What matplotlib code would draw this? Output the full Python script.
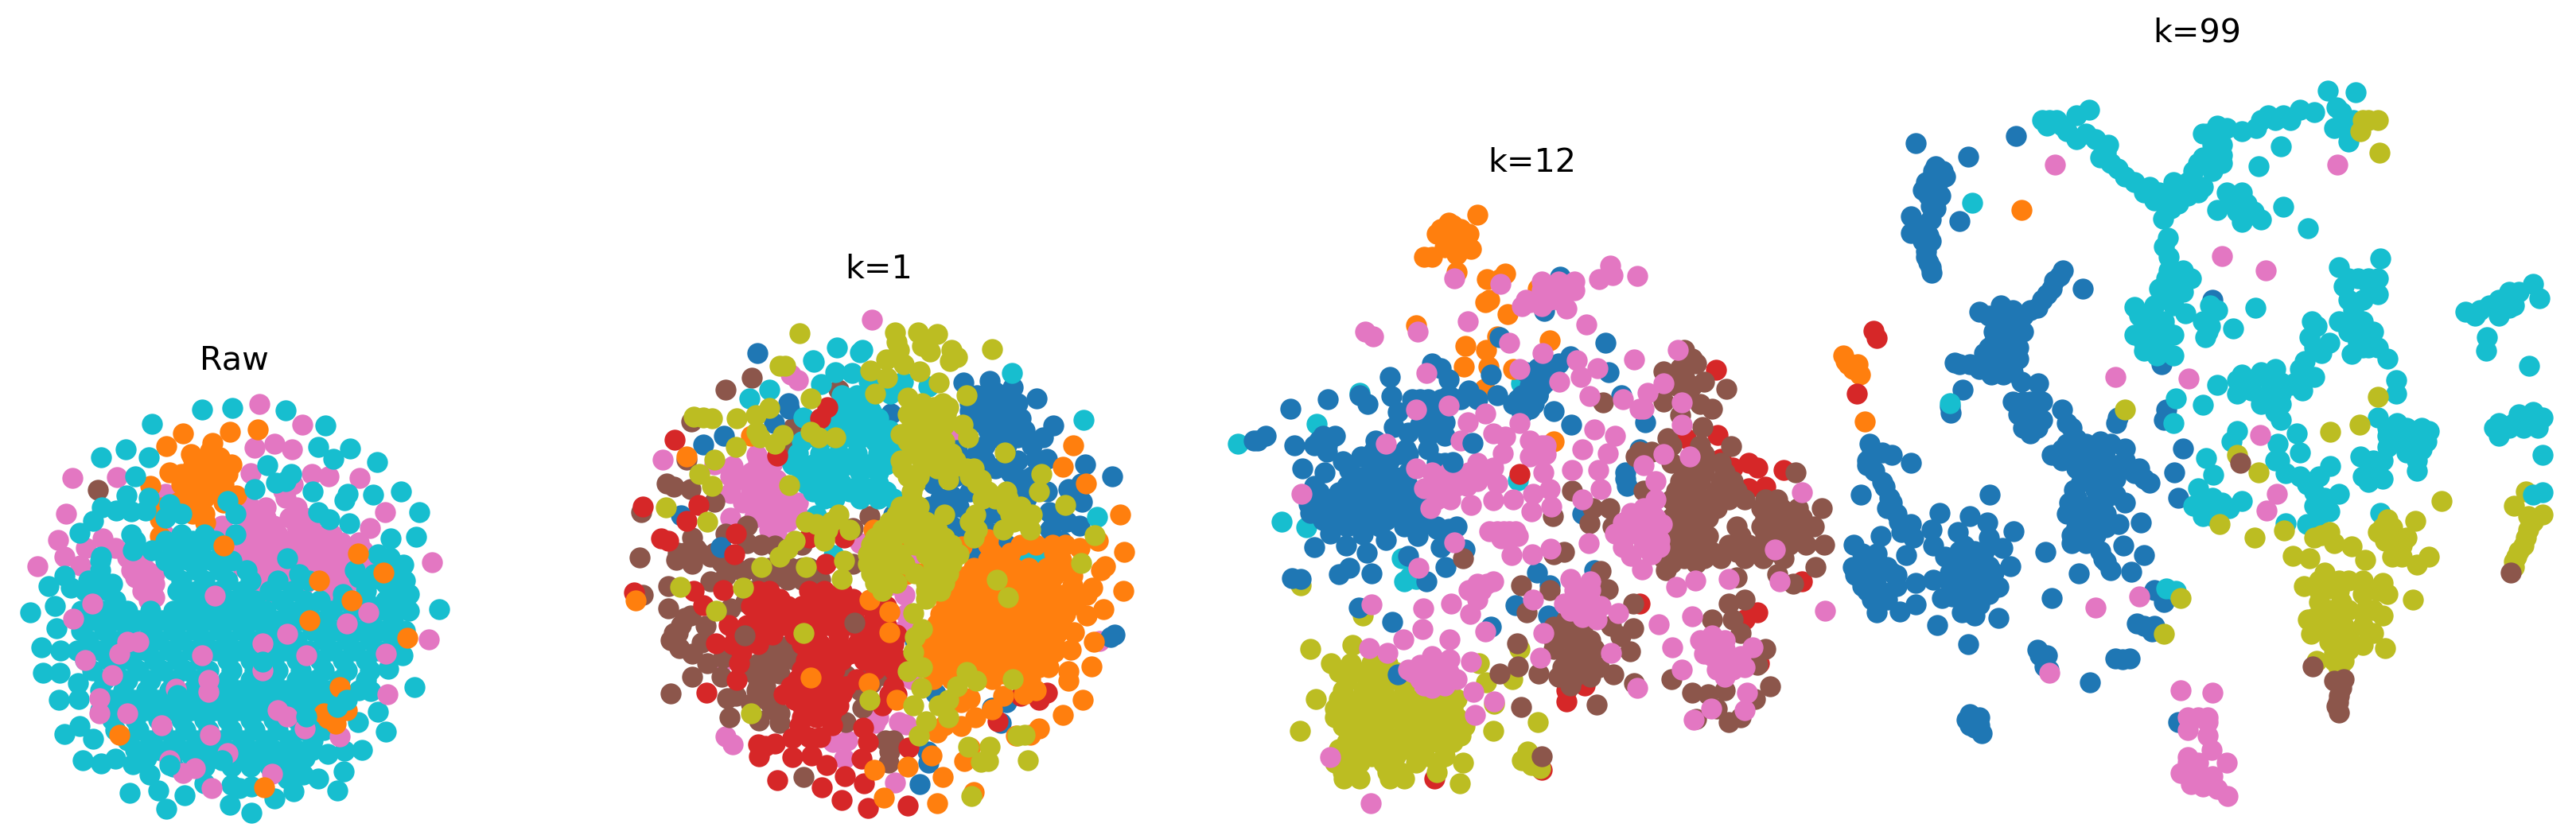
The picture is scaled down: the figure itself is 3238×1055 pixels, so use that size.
import matplotlib
matplotlib.use('Agg')
import matplotlib.pyplot as plt

BLUE = '#1f77b4'
ORANGE = '#ff7f0e'
RED = '#d62728'
BROWN = '#8c564b'
PINK = '#e377c2'
OLIVE = '#bcbd22'
CYAN = '#17becf'


def rows(table):
    return [(x, y) for y, xs in table for x in xs]


# ===================== Raw =====================
raw_pink = [(672,258),(783,320),(660,390),(711,378),(757,394),(650,467),(809,470),(852,476),(932,481),(304,478),
    (188,482),(172,588),(999,585),(267,662),(150,667),(223,693),(168,718),(209,745),(96,747),(960,633),(430,530),
    (425,652),(300,692),(350,740),(380,760),(340,700),(400,800),(370,820),(400,840),(340,760),(735,520),(760,500),
    (640,560),(770,580),(810,600),(575,625),(600,715)] + rows([
    (600,[640,690,750,790]),(650,[620,670,720,770,820,860]),(700,[610,660,710,760,810,860,900,940]),
    (750,[630,680,730,790,840,890,950]),(800,[680,790,860,900]),(850,[680]),
    (625,[650,710,770,800]),(675,[640,690,740,790,840,885,930]),(725,[630,680,730,780,830,880,920]),
    (775,[650,700,760,820,870,920]),(825,[680,850,890]),(570,[650,690,770]),(540,[740]),(770,[360,400]),
    (800,[370]),(720,[330,370]),(780,[350]),(850,[385])])
raw_orange = [(474,347),(597,342),(668,336),(431,386),(389,505),(613,535),(550,375),(495,410),(520,440),(560,440),
    (600,440),(470,470),(520,480),(570,480),(440,465),(500,520),(550,520),(460,555),(580,555),(520,570),(533,615),
    (415,605),(420,570),(415,655),(590,470)] + rows([
    (450,[500,540,580]),(500,[480,530,580,470]),(540,[480,530]),(420,[500,570]),(400,[545]),(590,[530,500])])
raw_brown = [(253,517)]
raw_cyan = [(525,275),(603,271),(741,277),(843,324),(395,318),(907,393),(825,387),(865,423),(977,433),(327,395),
    (262,420),(386,418),(693,443),(350,477),(1040,521),(967,531),(811,523),(902,528),(893,548),(329,533),(385,540),
    (1087,583),(264,570),(302,580),(341,581),(378,579),(241,610),(905,617),(1078,658),(207,646),(1013,664),(263,718),
    (168,775),(1046,742),(125,807),(183,812),(142,866),(79,885),(1138,877),(147,934),(107,992),(157,1000),(111,1067),
    (155,1068),(202,1099),(153,1149),(205,1146),(1044,1016),(1075,1111),(1006,1055),(961,1123),(981,1186),(1001,1244),
    (928,1217),(939,1301),(893,1302),(891,1365),(875,1423),(851,1313),(825,1387),(787,1374),(762,1425),(711,1447),
    (652,1488),(597,1464),(431,1477),(479,1436),(411,1423),(337,1428),(387,1373),(345,1343),(300,1326),(261,1341),
    (215,1331),(241,1266),(207,1228),(167,1251),(530,1400),(745,1385),(620,1415),(652,1410),(600,1405),
    (920,760),(980,710),(1010,720),(1050,790),(1060,830),(1000,800),(950,820),(910,850),
    (930,780),(970,770),(1020,760),(1030,800),(960,790),(890,830),(940,850),(1000,850),(1040,860)] + rows([
    (650,[340,470,530,610]),(700,[345,395,465,520]),(760,[260,450,510,570,640]),
    (820,[220,280,460,510,570,630,700,760]),
    (880,[210,270,330,390,450,510,570,630,690,750,800,860,920,980,1030,1060]),
    (940,[210,270,330,390,450,510,570,630,690,750,810,870,930,990,1050]),
    (1000,[200,260,320,380,440,500,560,620,680,740,800,860,920,980]),
    (1060,[240,300,360,420,480,540,600,660,720,780,840,900,960]),
    (1120,[260,320,380,440,500,560,620,680,740,800,850,930]),
    (1180,[260,320,380,440,500,560,620,680,740,800,880]),
    (1240,[300,360,420,480,540,600,660,720,780,840]),
    (1300,[350,410,470,530,590,650,710,770,810]),
    (1350,[450,530,600,650,700,750]),
    (850,[240,300,480,540,600,660,730,790,830,890,950,1000,1040]),
    (910,[240,300,360,420,480,540,600,660,720,780,840,900,960,1020]),
    (970,[230,290,350,410,470,530,590,650,710,770,840,900,960,1020]),
    (1030,[220,280,340,400,460,520,590,650,710,770,830,890,950]),
    (1090,[270,330,390,450,510,590,650,710,770,820,880,950]),
    (1150,[290,350,410,470,530,590,650,710,770,830]),
    (1210,[290,350,410,470,530,590,650,710,770,820]),
    (1270,[330,390,450,510,570,630,690,750,810]),
    (1325,[380,440,500,560,620,680,740,790]),
    (790,[230,470,530,590,650,720,800]),(730,[260,430,490,550,600]),(670,[350,430,500,560]),
    (720,[450,520,580]),(800,[250,290])])
raw_pink_top = [(557,835),(240,860),(190,905),(330,975),(360,975),(310,1010),(525,1015),(680,980),(745,950),(795,1015),
    (900,920),(955,885),(1000,1010),(680,1060),(540,1090),(540,1125),(455,1115),(258,1145),(258,1190),(330,1190),
    (418,1225),(720,1180),(790,1235),(545,1255),(590,1310),(475,1370),(505,1355),(548,1415),(706,1372),(1113,968),
    (1004,1133),(1120,735),(440,1330),(220,1030),(290,1075),(745,1200),(880,1260)]
raw_orange_top = [(684,1412),(310,1255),(1056,962),(995,765),(828,790),(928,708),(803,910),(912,850),(580,685),
    (850,1205),(880,1110),(900,1180),(870,1220),(840,1190)]
raw_cyan_top = [(744,723),(775,770),(660,515),(715,495),(755,470),(740,490),(825,585),(855,605),(610,590),(590,550),
    (470,590),(440,560),(430,600),(875,1170),(900,1150),(795,1200),(680,1035),(460,1135),(575,1330),(440,1345)]

# ===================== k=1 =====================
k1_pink = [(732,211),(530,370),(510,355),(160,578),(300,590),(415,565),(350,595),(345,620),(345,665),(343,728),
    (400,610),(450,610),(490,650),(400,660),(450,660),(380,690),(430,710),(480,700),(530,690),(450,760),(500,740),
    (530,720),(780,870),(780,905),(820,930),(825,980),(820,1020),(835,840),(700,795),(840,1150),(750,1250),(740,1265),
    (805,1262),(825,1268),(625,1315),(665,1310),(655,1358),(795,1420),(330,1300),(350,1320),(1355,1050),(950,505),(322,1105)] + rows([
    (630,[370,420,470]),(685,[400,450,500]),(730,[410,460,510]),(585,[420,460]),(770,[470])])
k1_brown = [(402,363),(332,395),(238,478),(640,395),(517,495),(508,553),(225,578),(170,640),(190,648),(235,655),(300,688),
    (100,715),(95,832),(240,780),(250,810),(195,840),(240,850),(290,830),(320,845),(330,770),(390,750),(390,795),(430,800),
    (467,802),(175,908),(290,895),(175,965),(105,930),(235,985),(210,1010),(180,1048),(277,1012),(265,1055),(205,1070),
    (240,1085),(280,1110),(240,1145),(320,1145),(180,1187),(325,1095),(345,965),(385,950),(380,870),(330,880),(430,880),
    (480,880),(540,800),(540,860),(590,890),(680,755),(725,725),(680,850),(450,1080),(500,1080),(420,1110),(470,1120),
    (410,1135),(520,1100),(415,1180),(400,1215),(360,1195),(335,1200),(450,1210),(480,1240),(480,1265),(423,1258),(341,1251),
    (660,1140),(720,1140),(580,1180),(570,1210),(700,1180),(705,1225),(660,1262),(768,1310),(790,1310),(780,1340),(777,1368),
    (545,1405),(760,1140)] + rows([
    (1100,[440,490]),(1135,[440,480]),(1060,[470,510]),(1170,[420,440]),(1230,[460]),(1160,[640,680,730]),
    (820,[200,220,260,310,300]),(860,[340,360,400,450,510,560]),(890,[500,540,440]),(920,[400]),(990,[220]),(1030,[190,200])])
k1_blue = [(419,300),(983,375),(1054,372),(1118,388),(502,430),(505,445),(463,481),(327,515),(269,537),(785,457),(1183,418),
    (1229,488),(1390,621),(1315,590),(1305,640),(1270,655),(1306,687),(1218,715),(1265,740),(1300,750),(1220,760),(208,722),
    (318,805),(535,975),(1395,1035),(1385,1040),(905,1187),(885,1340),(887,1368),(863,1425),(1100,1210),(1060,1225),(1085,1265),
    (850,1050),(1000,430),(1040,430),(1070,400),(1090,440),(1130,430),(1030,480),(1090,480),(1140,470),(1070,520),(1130,520),
    (1200,520),(965,552),(1020,560),(1070,600),(1130,580),(1180,575),(1210,575),(1110,610),(1150,630),(1155,680),(1210,660),
    (880,590),(900,640),(950,670),(1000,660),(890,700),(970,700),(1060,710),(950,750),(990,760),(1070,770),(890,770),(940,840),
    (1015,820),(1100,800),(960,790),(790,720),(1250,790)] + rows([
    (410,[1020,1070,1110]),(450,[1000,1060,1110]),(500,[1050,1110,1150]),(540,[1040,1100,1170]),(580,[1000,1040,1100]),
    (620,[1120,1170]),(650,[1130,1170]),(620,[880,920,960]),(680,[920,960,1040]),(730,[920,1000,1040,1090]),(790,[1030,1080]),
    (760,[1220]),(740,[1230])])
k1_cyan = [(1116,352),(1310,474),(1348,727),(705,290),(700,298),(635,285),(570,318),(573,322),(632,349),(677,351),(722,371),
    (817,373),(782,405),(887,387),(593,381),(450,394),(397,417),(545,468),(610,480),(650,410),(690,410),(640,450),(690,450),
    (730,450),(600,480),(680,490),(740,490),(780,500),(580,723),(627,827),(1060,920),(1050,895),(1120,830),(1160,830),(1205,840)] + rows([
    (530,[540,590,640,690,740,790]),(590,[515,570,620,670,720,770,810]),(640,[550,600,650,700,750]),(680,[600,630,700,750,790]),
    (430,[660,710]),(470,[650,700,750]),(510,[570,620,670,720,770]),(560,[530,590,640,690,750,800]),(610,[540,590,640,700,750]),
    (660,[570,620,670,720,770])])
k1_red = [(192,525),(473,568),(258,695),(225,737),(105,700),(155,783),(175,790),(80,925),(243,920),(270,957),(325,918),(355,825),
    (305,1058),(350,1060),(375,1080),(368,1108),(362,1153),(278,1186),(610,440),(590,470),(420,1320),(440,1325),(465,1318),(423,1352),
    (515,1305),(560,1303),(590,1303),(515,1355),(567,1350),(608,1375),(703,1358),(720,1315),(708,1278),(622,1270),(533,1270),(580,1248),
    (658,1403),(709,1423),(594,1434),(473,1415),(650,1466),(720,1488),(830,1481),(832,1330),(1075,1260),(1190,1205),(1210,1185),(1140,1195),
    (605,850),(655,780),(560,780),(360,770)] + rows([
    (920,[420,450,560,600,650]),(960,[400,450,500,540,600,650,700,770]),(1010,[340,390,440,490,560,610,660,720,770]),
    (1060,[420,540,590,640,690,740,790]),(1100,[550,600,650,710,760,810]),(1150,[530,590,690]),(1190,[490,530,610,650,780,800]),
    (1220,[540,600,640,760]),(1250,[540,580]),
    (940,[430,480,580,630,680,740]),(985,[420,470,520,570,630,680,740]),(1035,[360,410,460,520,580,640,700,750,800]),
    (1085,[570,620,670,720,780]),(1125,[540,570,630,740,790]),(1170,[510,560,630,660,790]),(1205,[520,570,630]),(1240,[560,620])])
k1_orange = [(1282,540),(1254,596),(1318,640),(1411,720),(1350,790),(1423,819),(1300,808),(1370,855),(1360,865),(1420,919),(1335,912),
    (1365,968),(1320,985),(1284,1028),(1340,1052),(1277,1073),(1333,1118),(1270,1130),(1270,1155),(1309,1205),(1255,1245),(1190,1280),
    (1165,1295),(1125,1297),(1090,1195),(1060,1230),(1015,1250),(975,1273),(910,1290),(930,1270),(895,1350),(1000,1330),(985,1365),
    (830,1378),(738,1387),(926,1407),(765,1460),(911,1475),(1010,1445),(780,975),(780,1027),(725,942),(737,760),(563,1146),(722,1160),
    (800,1205),(828,780),(865,875),(825,877),(85,945),(400,515),(225,570),(1148,1190),(1180,1180),(1000,1200),(975,1210),(978,803)] + rows([
    (800,[1050,1140,1180,1225,1260]),(840,[1050,1090,1250]),(880,[990,1040,1090,1135,1180,1230,1280]),
    (930,[950,1000,1050,1100,1150,1200,1250,1320]),(980,[920,970,1020,1070,1120,1170,1220,1260]),
    (1030,[900,950,1000,1050,1100,1150,1200,1240]),(1080,[880,930,980,1030,1080,1130,1180,1230]),
    (1120,[920,970,1020,1070,1120,1190,1215]),(1150,[900,950,1060,1165]),
    (820,[1060,1110,1230]),(860,[1010,1070,1120,1160,1210,1260]),(905,[970,1020,1070,1120,1170,1220,1280]),
    (955,[935,985,1035,1085,1135,1185,1235,1290]),(1005,[910,960,1010,1060,1110,1160,1210,1250]),
    (1055,[880,930,980,1030,1080,1130,1180,1230]),(1100,[900,950,1000,1050,1100,1150,1210]),(1135,[940,990,1040,1090,1140]),(785,[1050])])
k1_olive = [(534,248),(795,245),(800,270),(805,290),(858,245),(885,265),(910,250),(870,280),(890,295),(950,290),(965,310),(945,320),
    (1061,289),(480,332),(495,332),(770,315),(818,328),(727,345),(774,363),(863,347),(565,417),(740,405),(915,375),(830,415),(870,430),
    (925,430),(935,460),(450,442),(243,465),(270,468),(295,470),(361,469),(414,462),(416,505),(425,520),(360,544),(300,577),(260,614),
    (294,645),(168,703),(280,740),(487,512),(465,535),(565,505),(585,520),(632,520),(505,643),(990,410),(980,485),(995,520),(520,790),
    (500,810),(480,830),(550,740),(580,745),(600,790),(655,842),(552,857),(430,857),(207,910),(380,912),(305,972),(650,888),(845,978),
    (870,1020),(850,1040),(845,1080),(830,1130),(870,1120),(867,1173),(845,1220),(880,1260),(915,1220),(940,1250),(940,1205),(860,1297),
    (990,1132),(1018,1155),(1118,1150),(965,1170),(725,1205),(1073,890),(1105,937),(1195,615),(1190,660),(1260,695),(1305,848),(1342,775),
    (1095,558),(1150,1295),(1130,1298),(995,1328),(1055,1328),(1030,1367),(1050,1365),(1158,1362),(1005,1455),(545,1030),(400,1240)] + rows([
    (460,[830,870,920]),(510,[810,860,910]),(560,[840,900]),(600,[815,870,930,990]),(640,[850,1020]),(680,[840,1035,1070,1105]),
    (720,[640,800,850,930,1015,1110,1170]),(760,[610,670,760,810,860,910,1090,1165,1020]),(800,[730,780,850,900,950]),
    (850,[720,770,820,900,950]),(900,[740,800,880,930]),(940,[880]),
    (440,[850,900,940]),(485,[840,890,930]),(530,[830,880,930]),(580,[810,870,920,960]),(620,[830,860,1000]),(660,[840,1050,1100]),
    (700,[810,860,1100,1140]),(740,[620,780,830,880,1000,1120,1150]),(780,[600,740,790,840,880,930,1010]),(825,[720,760,810,880,930,970]),
    (875,[730,780,850,900,940]),(920,[760,880,920]),(600,[910,950,1010]),(630,[940,1030]),(560,[920,950])])
k1_brown_top = [(684,1004),(383,1036)]

# ===================== k=12 =====================
k12_cyan = [(350,585),(245,653),(50,698),(158,869),(220,882),(460,1000),(475,990),(490,995),(740,778),(748,565),(455,950)]
k12_red = [(1228,535),(1155,685),(1232,678),(1240,730),(1270,750),(1310,740),(1330,750),(1350,792),(1395,755),(1310,795),(1440,1000),
    (1335,1180),(1330,1068),(1300,1085),(1040,1050),(860,1265),(860,1240),(905,1230),(536,1435),(800,1415)]
k12_orange = [(640,193),(580,215),(550,225),(600,225),(560,245),(600,245),(625,268),(590,280),(560,265),(510,285),(530,285),(590,318),
    (665,335),(710,322),(695,335),(660,385),(670,380),(715,412),(790,355),(820,470),(612,481),(663,491),(608,528),(668,528),(490,437),
    (730,533),(658,577),(690,460),(830,692)] + rows([(210,[570]),(235,[540,580,620]),(255,[570,590]),(270,[600])])
k12_olive = [(230,1150),(333,1140),(243,1260),(203,1330),(205,1010),(358,1075),(662,1222),(727,1215),(682,1270),(790,1311),(680,1330),
    (745,1150),(645,1180),(598,1445),(765,1375),(750,1395),(795,1412),(775,1405)] + rows([
    (1180,[280,330,380,420]),(1220,[320,370,420,460]),(1260,[300,350,400,450,500,550,590]),(1300,[290,340,390,440,490,540,590]),
    (1340,[340,390,450,500,550,600]),(1370,[300,350,400,460,510,560]),(1400,[290,350,410,490,540,605]),(1435,[312,350,425,460]),
    (1200,[300,350,400,440]),(1240,[310,360,410,460]),(1280,[290,330,380,430,480,530,580]),(1320,[310,360,410,470,520,570,610]),
    (1355,[320,370,430,480,530,580]),(1385,[320,380,440,510,560]),(1420,[310,420,450,540])])
k12_blue = [(845,330),(805,405),(695,462),(957,474),(965,540),(426,550),(180,620),(272,600),(430,593),(444,628),(350,590),(370,610),
    (435,660),(470,672),(530,520),(570,555),(550,530),(675,545),(690,590),(780,545),(810,560),(840,520),(870,505),(790,590),(740,600),
    (770,620),(830,625),(873,655),(1055,650),(995,590),(1040,710),(1005,760),(1010,790),(90,690),(120,680),(190,700),(250,690),(290,680),
    (270,715),(310,735),(355,725),(390,690),(385,715),(423,735),(465,710),(470,720),(520,710),(380,750),(325,755),(265,760),(210,752),
    (225,830),(230,850),(279,895),(359,897),(415,910),(493,900),(550,925),(240,925),(317,922),(369,938),(381,982),(300,985),(325,970),
    (185,993),(205,995),(470,945),(515,1000),(562,968),(610,930),(540,620),(500,600),(520,640),(560,650),(520,680),(560,680),(480,600),
    (590,600),(620,580),(570,590),(348,1058),(432,1090),(787,981),(735,1053),(820,1010),(815,1075),(675,1100),(900,852),(445,1205),(930,975)] + rows([
    (790,[240,320,370,420,470]),(820,[270,320,370,420,470,520]),(850,[290,340,390,440,490]),(880,[280,320,400,460,500,540,590]),
    (805,[250,300,345,395,445,495]),(835,[245,295,345,395,445,495]),(865,[260,310,365,415,465,510]),(770,[350,400,440,460]),(760,[420,470]),
    (620,[510,550]),(655,[500,540]),(700,[240,270]),(680,[260]),(690,[100]),(600,[520,550,600,640]),(590,[750,790]),(610,[730,780]),
    (570,[770,800]),(630,[750]),(530,[790,830]),(540,[760,820]),(885,[540,570]),(720,[450]),(740,[540,560])])
k12_brown = [(1150,490),(1180,520),(1100,537),(1150,550),(1200,560),(1255,577),(1160,585),(1100,605),(1140,635),(1190,610),(1220,620),
    (1195,660),(1110,685),(1267,703),(1040,715),(1070,715),(1030,725),(950,607),(875,800),(925,840),(967,840),(918,872),(828,856),(1050,800),
    (975,880),(1105,975),(1280,992),(1473,968),(1420,1005),(1380,985),(605,950),(855,935),(830,940),(945,977),(748,1010),(820,1020),(963,1018),
    (1025,1050),(763,1068),(970,1098),(1025,1103),(993,1122),(1017,1155),(738,1137),(741,1188),(695,1203),(792,1204),(977,1205),(748,1278),
    (935,1272),(1028,1225),(800,1385),(1220,1085),(1260,1050),(1300,1040),(1270,1085),(1290,1115),(1350,1150),(1330,1185),(1120,1215),
    (1170,1245),(1210,1250),(1250,1240),(1230,1280),(1260,1310),(1325,1260),(1363,1232),(1180,1303),(1290,1300)] + rows([
    (720,[1200]),(760,[1150,1200,1250,1425]),(800,[1130,1180,1230,1280]),(840,[1130,1180,1230,1340,1390,1430,1490]),
    (880,[1130,1180,1280,1340,1390,1430,1470]),(920,[1130,1180,1260,1310,1360,1410,1450,1495]),(950,[1100,1150,1200,1240,1300,1345,1395]),
    (1110,[850,900]),(1150,[830,880,930]),(1190,[850,900,940]),(1210,[840]),(1230,[870]),
    (740,[1120,1160,1200,1240]),(780,[1140,1190,1240,1270]),(820,[1120,1160,1210,1260,1300,1350,1380]),(860,[1120,1160,1210,1350,1400,1440]),
    (900,[1120,1160,1210,1290,1350,1400,1440]),(935,[1130,1170,1220,1280,1330,1380]),(1130,[830,870,920]),(1170,[860,910]),(1100,[830,875]),
    (1085,[860]),(1210,[880,920]),(960,[1120,1180]),(570,[1170,1130]),(530,[1140]),(510,[1170]),(700,[1120,1190])])
k12_pink = [(585,332),(697,345),(968,305),(940,335),(975,325),(1035,327),(850,345),(870,360),(770,385),(820,380),(860,400),(910,435),(618,428),
    (493,450),(365,450),(385,460),(720,475),(802,497),(885,513),(843,560),(895,550),(937,531),(1028,512),(515,542),(745,532),(918,593),(1000,600),
    (1040,620),(490,622),(570,613),(660,630),(618,650),(745,652),(710,682),(680,675),(930,665),(980,680),(703,718),(900,710),(962,718),(770,690),
    (800,700),(770,725),(490,752),(804,761),(875,755),(938,755),(690,785),(820,797),(778,808),(945,797),(680,822),(730,820),(775,847),(823,835),
    (625,833),(207,808),(415,697),(600,690),(640,740),(680,750),(550,770),(600,770),(640,780),(510,795),(560,810),(525,840),(590,790),(690,890),
    (720,890),(740,900),(725,943),(776,940),(822,928),(915,917),(585,915),(496,970),(1047,974),(1131,1012),(1177,999),(1385,1000),(1260,995),
    (1373,930),(1498,1065),(1088,1095),(1170,1078),(1122,1146),(640,1015),(680,1000),(640,1040),(577,1050),(507,1060),(623,1073),(506,1105),
    (380,1052),(458,1129),(572,1129),(660,1110),(796,1168),(803,1114),(970,1158),(988,1070),(778,1040),(870,995),(920,1000),(855,1050),(900,1040),
    (945,1055),(900,1080),(935,1085),(470,1195),(530,1165),(572,1172),(625,1178),(500,1215),(550,1220),(590,1215),(530,1235),(631,1244),(636,1295),
    (682,1265),(278,1388),(378,1490),(375,1148),(419,1158),(1220,1120),(1200,1160),(1250,1150),(1190,1130),(1240,1180),(1300,1190),(1320,1145),
    (1250,1210),(1145,1195),(1217,1280),(1300,1285),(1305,1245),(1175,1305),(1035,1235),(1000,870),(1040,870),(1080,860),(1000,910),(1050,900),
    (1090,910),(1020,945),(1070,940),(1050,840),(1060,585),(1100,565),(1050,620),(1145,607),(1145,655),(1135,490),(1100,720),(1050,745),(1165,725),
    (1080,780),(1080,820),(1440,805),(900,820)] + rows([
    (875,[1010,1060,1095]),(895,[980,1030,1075]),(925,[1000,1050,1090]),(850,[1020,1070]),(1020,[880,920]),(1065,[870,915]),(760,[530,570,620,660]),
    (790,[530,575,615]),(820,[540,575]),(1200,[480,520,570]),(1185,[500,550]),(1230,[510,560]),(1130,[1210,1250]),(1165,[1220,1260,1290]),
    (1195,[1230,1270]),(340,[840,880,800]),(360,[800,850,880]),(380,[760,810,840]),(395,[750,800]),(890,[670,705,735]),(905,[700,720]),
    (700,[780,810]),(720,[790,810]),(1020,[620,650]),(1005,[640,665])])
k12_blue_top = [(630,695),(580,737),(1005,775)]
k12_red_top = [(744,763)]

# ===================== k=99 =====================
k99_blue = [(210,268),(318,293),(415,254),(250,310),(270,330),(240,350),(225,355),(250,370),(250,390),(200,405),(240,410),(300,413),(200,435),
    (235,440),(230,470),(235,490),(243,510),(512,505),(495,525),(480,550),(554,539),(460,575),(430,590),(340,582),(385,570),(380,600),(410,600),
    (370,640),(410,640),(350,660),(390,670),(420,670),(290,677),(320,680),(365,700),(410,695),(428,713),(462,716),(306,728),(280,760),(281,772),
    (430,750),(420,775),(460,760),(440,790),(470,785),(445,810),(510,765),(520,790),(625,780),(622,790),(720,785),(725,765),(715,680),(820,560),
    (540,820),(590,825),(640,838),(490,850),(530,850),(580,860),(620,870),(560,880),(600,890),(660,885),(690,902),(535,915),(580,915),(620,925),
    (525,940),(570,945),(640,940),(540,970),(580,970),(530,1000),(580,1000),(627,980),(672,977),(636,1020),(477,1031),(680,1038),(590,1030),(600,1050),
    (610,1065),(653,1068),(545,1072),(490,1117),(742,883),(750,930),(759,838),(200,865),(115,830),(160,850),(110,860),(125,880),(145,910),(97,925),
    (155,930),(170,960),(200,980),(180,995),(205,1005),(137,1002),(362,925),(259,958),(321,965),(357,976),(243,990),(297,995),(411,993),(245,1020),
    (360,1005),(388,1024),(405,1058),(82,1018),(190,1037),(100,1050),(130,1050),(85,1075),(120,1080),(170,1075),(110,1105),(150,1110),(130,1145),
    (177,1143),(210,1090),(245,1083),(263,1117),(210,1130),(254,1168),(380,1155),(380,1097),(310,1020),(290,1050),(330,1050),(360,1058),(280,1090),
    (320,1090),(350,1100),(310,1130),(340,1130),(305,1145),(330,1150),(318,1204),(700,1103),(720,1125),(665,1165),(695,1180),(460,1215),(475,1235),
    (483,1252),(635,1232),(568,1275),(320,1335),(340,1340),(330,1360),(345,1370),(750,1350)] + rows([
    (320,[245,265]),(340,[230,255]),(365,[235,260]),(385,[240]),(420,[225,215]),(450,[225,240]),(480,[230]),(500,[240]),(515,[505]),(540,[490]),
    (560,[470]),(580,[445,410]),(590,[360,400]),(620,[370,400,430]),(650,[360,390,420]),(680,[300,345,380,410]),(690,[340,390]),(700,[390]),
    (770,[440,455]),(800,[430,460]),(750,[410,445,470]),(780,[440]),(800,[530]),(830,[520,560,610]),(840,[510,560,600]),(860,[510,550,600,640]),
    (875,[540,580,640,670]),(895,[560,620,680]),(900,[550,590]),(930,[540,600]),(960,[520,560,600]),(985,[540,570,600]),(1015,[530,560]),(1045,[595]),
    (900,[140]),(940,[160]),(950,[150]),(975,[175]),(845,[120,140]),(870,[110]),(1060,[80,110,150]),(1070,[100,130,160]),(1095,[100,130,170]),
    (1120,[120,150]),(1130,[130]),(1035,[100,130]),(1030,[300,330,350]),(1070,[280,310,340,370]),(1110,[300,330,360]),(1040,[270,320]),(1115,[285]),
    (1145,[320]),(1170,[680,700]),(1225,[465,480]),(1245,[475]),(1345,[315,335]),(1355,[320,340]),(1230,[620,650])])
k99_cyan = [(1057,170),(1115,173),(485,225),(540,215),(567,205),(520,245),(560,250),(605,270),(590,295),(625,315),(660,340),(690,350),(740,340),
    (700,375),(735,390),(718,408),(770,365),(800,350),(780,320),(820,320),(800,295),(840,290),(810,250),(830,235),(880,245),(910,240),(935,215),
    (965,215),(1000,205),(1030,210),(960,273),(915,311),(1085,210),(1070,240),(1100,250),(1110,225),(850,360),(880,360),(870,395),(905,395),(920,410),
    (880,415),(830,393),(965,387),(1017,426),(325,379),(728,445),(730,480),(730,505),(760,505),(775,520),(760,545),(710,540),(660,573),(700,570),
    (740,570),(765,585),(680,610),(720,610),(680,640),(720,640),(705,665),(740,665),(815,570),(800,600),(805,630),(830,580),(862,614),(908,575),
    (1080,500),(1090,535),(1140,530),(1166,483),(1160,550),(1110,580),(1080,600),(1130,600),(1120,640),(1107,662),(1160,650),(1180,670),(1025,600),
    (1020,630),(1060,640),(1045,660),(1010,675),(1030,705),(830,720),(870,710),(920,695),(950,690),(900,730),(940,730),(980,720),(1005,730),(920,755),
    (960,755),(960,785),(745,745),(801,757),(740,790),(1198,710),(1198,735),(1160,780),(1200,790),(1240,810),(1265,805),(1205,820),(1250,840),(1180,835),
    (1125,853),(1240,880),(1150,880),(1130,890),(1170,895),(993,810),(1000,845),(955,830),(958,860),(970,885),(870,805),(860,825),(807,856),(822,887),
    (1063,871),(1000,890),(1040,890),(1030,920),(1080,923),(1030,945),(1060,955),(790,912),(780,945),(820,930),(820,965),(855,950),(880,937),(971,978),
    (1014,980),(1165,958),(280,753),(725,1100),(745,1105),(1340,583),(1370,580),(1410,560),(1430,575),(1450,545),(1480,530),(1493,558),(1385,630),
    (1383,655),(1472,683),(1400,800),(1450,775),(1480,790),(1500,780),(1410,815),(1500,850)] + rows([
    (225,[470,500]),(235,[480,510]),(260,[540,580]),(285,[600]),(305,[610]),(330,[640]),(360,[680,710,740,790]),(380,[720,750,860,890]),(340,[770]),
    (305,[790,810,840]),(270,[820,840]),(250,[800]),(240,[850]),(225,[920,950,980,1090]),(265,[1100]),(200,[1075]),(400,[890]),(460,[720]),
    (520,[745,725,1100,1120,1160,1140]),(550,[730]),(600,[680,700,720,1100]),(590,[670,1360,1410]),(625,[660,690,740]),(655,[680,700]),(620,[810,1100,1130,1150]),
    (610,[815,1035]),(560,[1100,1130]),(650,[1130,1140,1030]),(700,[880,930]),(715,[900,960,990]),(735,[870,960]),(710,[940]),(745,[940]),(770,[950]),
    (690,[1000]),(800,[1180,1220,1250,1430,1460,1490]),(815,[1220,1180]),(825,[1260]),(860,[1240,1150,1170,950]),(845,[1220,1240]),(890,[1160]),(900,[1140,1020]),
    (940,[800,840]),(965,[800,1040]),(930,[1050]),(905,[1015]),(570,[1390,1440]),(545,[1430]),(790,[1410,1440]),(770,[1480])])
k99_olive = [(1130,225),(1160,225),(1125,245),(1163,286),(1160,742),(1063,807),(1123,794),(915,883),(1292,937),(907,1005),(968,992),(835,980),(640,765),
    (870,850),(1237,973),(1465,918),(1440,945),(1470,965),(1500,962),(1470,990),(1460,1020),(1445,1040),(1440,1060),(1180,970),(1160,995),(1190,1015),
    (1220,1005),(1210,1040),(1240,1055),(1265,1040),(1060,995),(1030,1005),(1070,1015),(1107,1021),(985,1039),(1019,1044),(1135,1047),(1232,1120),(1008,1096),
    (1175,1212),(1050,1070),(1060,1100),(1100,1085),(1170,1090),(1040,1125),(1085,1125),(1130,1110),(1180,1110),(1030,1155),(1075,1160),(1130,1145),(1170,1150),
    (1017,1158),(1023,1185),(1060,1190),(1100,1185),(1150,1183),(1130,1205),(1070,1220),(1100,1215),(1035,1235),(1080,1250),(755,1118),(720,1185)] + rows([
    (1000,[1045]),(1010,[1175,1205]),(985,[1170,1190]),(1040,[1190]),(1020,[1210]),(1085,[1040,1080,1130]),(1105,[1040,1080,1160]),(1140,[1060,1100,1150]),
    (1170,[1050,1090,1130]),(1200,[1060,1090]),(1235,[1070,1090]),(975,[1480]),(1005,[1465]),(1030,[1450]),(1050,[1440]),(225,[1140])])
k99_cyan_top = [(1500,920),(1480,925)]
k99_brown = [(878,865),(1027,1245),(1070,1272),(1090,1270),(1080,1300),(1075,1320),(1080,1332),(1433,1070),(1085,1285),(1078,1312)]
k99_pink = [(496,307),(1077,307),(839,478),(929,505),(620,705),(771,708),(918,813),(952,923),(932,954),(670,1115),(580,1136),(755,1290),(820,1295),(790,1340),
    (770,1365),(810,1350),(810,1375),(819,1402),(849,1426),(770,1415),(755,1445),(785,1440),(775,1465),(820,1450),(830,1475),(851,1488),(485,1258)] + rows([
    (1340,[810,770]),(1425,[770,790]),(1455,[800,810]),(1470,[800])])
k99_orange = [(427,393),(65,675),(80,690),(95,700),(104,787),(70,680),(90,680),(60,665)]
k99_red = [(122,618),(130,632),(88,736)]

W, H = 3238, 1055
fig = plt.figure(figsize=(W / 100, H / 100), dpi=100)

# left, top, width, height of each panel in pixels, then title and its position
panels = [
    ((0, 400, 760, 655), 'Raw', (608, 127), [(raw_pink, PINK), (raw_orange, ORANGE), (raw_brown, BROWN), (raw_cyan, CYAN),
        (raw_pink_top, PINK), (raw_orange_top, ORANGE), (raw_cyan_top, CYAN)]),
    ((760, 300, 720, 755), 'k=1', (750, 82), [(k1_pink, PINK), (k1_brown, BROWN), (k1_blue, BLUE), (k1_cyan, CYAN),
        (k1_red, RED), (k1_orange, ORANGE), (k1_olive, OLIVE), (k1_brown_top, BROWN)]),
    ((1530, 160, 800, 895), 'k=12', (775, 79), [(k12_cyan, CYAN), (k12_red, RED), (k12_orange, ORANGE), (k12_olive, OLIVE),
        (k12_blue, BLUE), (k12_brown, BROWN), (k12_pink, PINK), (k12_blue_top, BLUE), (k12_red_top, RED)]),
    ((2280, 0, 958, 1055), 'k=99', (788, 62), [(k99_blue, BLUE), (k99_cyan, CYAN), (k99_olive, OLIVE), (k99_cyan_top, CYAN),
        (k99_brown, BROWN), (k99_pink, PINK), (k99_orange, ORANGE), (k99_red, RED)]),
]

for (left, top, w, h), title, title_pos, layers in panels:
    ax = fig.add_axes([left / W, 1 - (top + h) / H, w / W, h / H])
    ax.patch.set_alpha(0)
    for pts, colour in layers:
        xs, ys = zip(*pts)
        ax.scatter(xs, ys, s=360, color=colour, linewidths=0, clip_on=False)
    ax.set_xlim(0, 1568)
    ax.set_ylim(1568, 0)
    ax.text(title_pos[0], title_pos[1], title, fontsize=29.7, ha='center', va='center')
    ax.axis('off')

fig.savefig('out.png', dpi=100)
